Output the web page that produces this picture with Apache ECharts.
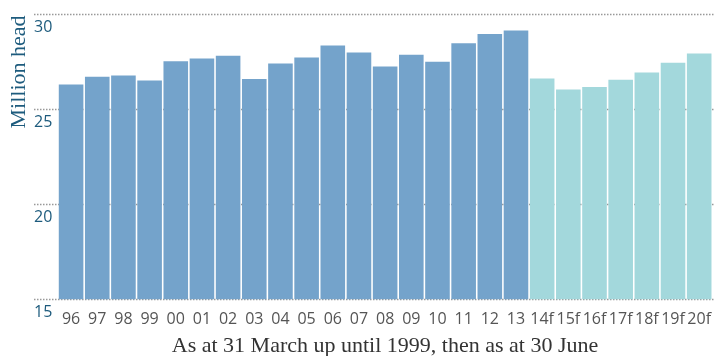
<!DOCTYPE html>
<html>
<head>
<meta charset="utf-8">
<script src="https://cdn.jsdelivr.net/npm/echarts@6/dist/echarts.min.js"></script>
<style>
html,body{margin:0;padding:0;background:#fff;}
#chart{width:714px;height:356px;}
</style>
</head>
<body>
<div id="chart"></div>
<script>
const categories = ['96','97','98','99','00','01','02','03','04','05','06','07','08','09','10','11','12','13','14f','15f','16f','17f','18f','19f','20f'];
const values = [26.30,26.71,26.78,26.51,27.53,27.68,27.82,26.60,27.41,27.73,28.36,27.99,27.25,27.87,27.50,28.47,28.96,29.15,26.62,26.04,26.18,26.55,26.94,27.45,27.94];
const yTicks = [15,20,25,30];
const yTitle = 'Million head';
const xTitle = 'As at 31 March up until 1999, then as at 30 June';

const ACTUAL = '#74a3cb';
const FORECAST = '#a3d8dc';
const chart = echarts.init(document.getElementById('chart'));
const gTop = 14.3, gBottom = 56.7;
chart.setOption({
  animation: false,
  grid: [
    {left: 34, right: 0, top: gTop, bottom: gBottom},
    {left: 58, right: 0.5, top: gTop, bottom: gBottom}
  ],
  xAxis: [
    {gridIndex: 0, type: 'value', show: false, min: 0, max: 1},
    {gridIndex: 1, type: 'category', data: categories,
     axisLine: {show: false}, axisTick: {show: false},
     axisLabel: {interval: 0, margin: 12, fontSize: 16, color: '#555', fontFamily: 'Open Sans'}}
  ],
  yAxis: [
    {gridIndex: 0, type: 'value', min: yTicks[0], max: yTicks[yTicks.length-1], interval: 5,
     axisLine: {show: false}, axisTick: {show: false},
     splitLine: {show: true, lineStyle: {color: '#999', type: [1.5, 1.5], width: 1.3}},
     axisLabel: {inside: true, margin: 0, verticalAlign: 'top', padding: [5,0,0,0],
       fontSize: 16, color: '#1d5b7d', fontFamily: 'Open Sans'}},
    {gridIndex: 1, type: 'value', min: yTicks[0], max: yTicks[yTicks.length-1], show: false}
  ],
  series: [{
    type: 'bar', xAxisIndex: 1, yAxisIndex: 1,
    barCategoryGap: '6%',
    data: values.map((v, i) => ({value: v, itemStyle: {color: categories[i].endsWith('f') ? FORECAST : ACTUAL}}))
  }],
  graphic: [
    {type: 'text', x: 19, y: 72, rotation: Math.PI/2, style: {text: yTitle, font: '22px "Liberation Serif"', fill: '#1d5b7d', align: 'center', verticalAlign: 'middle'}},
    {type: 'text', x: 385, y: 346, style: {text: xTitle, font: '22px "Liberation Serif"', fill: '#333', align: 'center', verticalAlign: 'middle'}}
  ]
});
</script>
</body>
</html>
